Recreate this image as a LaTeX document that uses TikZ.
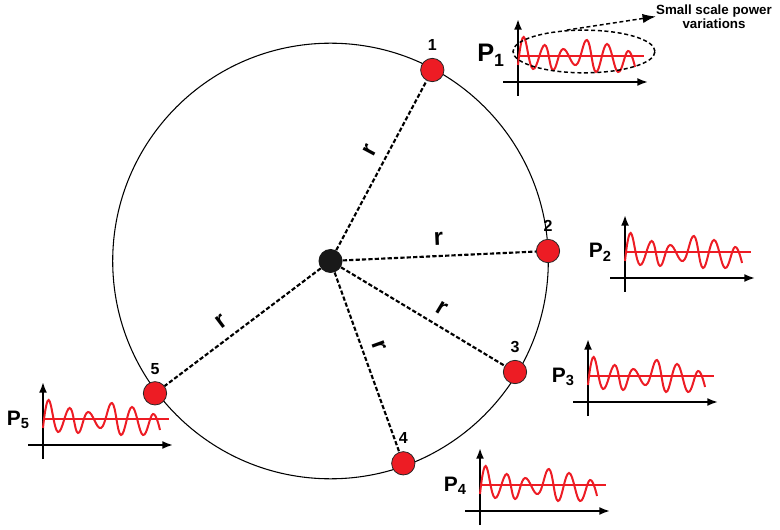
\documentclass[tikz,border=0pt]{standalone}
\usepackage{fontspec}
\setmainfont{Liberation Sans}
\usetikzlibrary{arrows.meta,shapes.geometric,positioning}
\definecolor{sigred}{RGB}{237,28,36}

\tikzset{
  axisline/.style={line width=1.5pt,-{Latex[length=8pt,width=6pt]}},
  wave/.style={sigred,line width=1.5pt},
  spoke/.style={line width=1.6pt,dash pattern=on 3.2pt off 1.6pt},
  sensor/.style={circle,fill=sigred,draw=black!85,line width=0.6pt,minimum size=17.5pt,inner sep=0pt},
  numlab/.style={font=\fontsize{12}{12}\selectfont\bfseries,inner sep=0pt},
  rlab/.style={font=\fontsize{18}{18}\selectfont\bfseries,inner sep=7pt},
  plab/.style={font=\fontsize{15.7}{16}\selectfont\bfseries,inner sep=0pt,anchor=base east},
  pics/pwrplot/.style={code={
    \coordinate (-o) at (0,0);
    \draw[axisline] (-15,0) -- (130,0);
    \draw[axisline] (0,14) -- (0,-63);
    \draw[wave] (0,-26) -- (126,-26);
    \draw[wave] plot[smooth,tension=.7] coordinates {(0,-17) (5.7,-45) (15,-13) (26.7,-37) (35,-12) (45,-33) (58,-17) (69,-42) (78,-10) (89,-38) (100,-10) (110,-31) (117,-15)};
  }}
}

\begin{document}
\begin{tikzpicture}[x=0.75pt,y=-0.75pt]
\useasboundingbox (0,0) rectangle (780,530);
\coordinate (o) at (330.5,261);
\draw[line width=0.8pt] (o) circle (217.8);
\node[circle,fill=black!90,minimum size=18pt,inner sep=0pt] (c) at (o) {};
\node[sensor] (d1) at (432.3,70) {};
\node[sensor] (d2) at (548,251) {};
\node[sensor] (d3) at (515,372) {};
\node[sensor] (d4) at (403.3,463.3) {};
\node[sensor] (d5) at (155,393.3) {};
\node[numlab] (n1) [above=5.5pt of d1] {1};
\node[numlab] (n2) [above=5.5pt of d2] {2};
\node[numlab] (n3) [above=5.5pt of d3] {3};
\node[numlab] (n4) [above=5.5pt of d4] {4};
\node[numlab] (n5) [above=5pt of d5] {5};
\draw[spoke] (c) -- node[rlab,sloped,above,pos=.54] (r1) {r} (d1);
\draw[spoke] (c) -- node[rlab,sloped,above,pos=.5] (r2) {r} (d2);
\draw[spoke] (c) -- node[rlab,sloped,above,pos=.56] (r3) {r} (d3);
\draw[spoke] (c) -- node[rlab,sloped,above,pos=.44] (r4) {r} (d4);
\draw[spoke] (c) -- node[rlab,sloped,above,pos=.57] (r5) {r} (d5);
\pic (g1) at (518,82) {pwrplot};
\pic (g2) at (625,278) {pwrplot};
\pic (g3) at (588,402) {pwrplot};
\pic (g4) at (480,511) {pwrplot};
\pic (g5) at (43,445) {pwrplot};
\node[plab,font=\fontsize{19}{19}\selectfont\bfseries] (P1) at ([shift={(-13,-20)}]g1-o) {P\textsubscript{1}};
\node[plab] (P2) at ([shift={(-13,-20)}]g2-o) {P\textsubscript{2}};
\node[plab] (P3) at ([shift={(-13,-20)}]g3-o) {P\textsubscript{3}};
\node[plab] (P4) at ([shift={(-13,-20)}]g4-o) {P\textsubscript{4}};
\node[plab] (P5) at ([shift={(-13,-20)}]g5-o) {P\textsubscript{5}};
\node[ellipse,draw,line width=1.1pt,dash pattern=on 3pt off 2pt,minimum width=106.5pt,minimum height=32pt,inner sep=0pt] (var) at (584,51.5) {};
\node[font=\fontsize{10}{10.8}\selectfont\bfseries,align=center,inner sep=0pt] (note) at (714,16.5) {Small scale power\\variations};
\draw[line width=1.1pt,dash pattern=on 3pt off 2pt,-{Latex[length=10pt,width=7pt]}] (var.129) -- (note.west);
\end{tikzpicture}
\end{document}
